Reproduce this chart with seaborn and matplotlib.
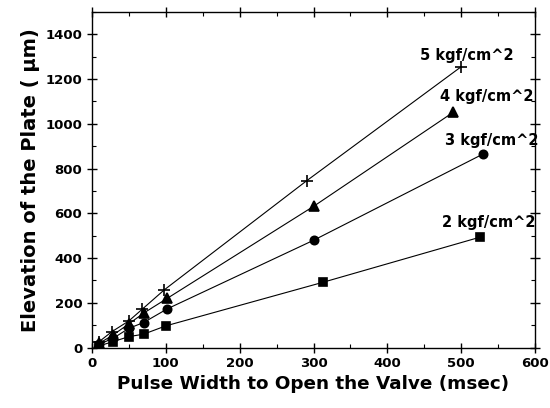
import pandas as pd
import matplotlib
import matplotlib.pyplot as plt
import seaborn as sns
from matplotlib.ticker import MultipleLocator

matplotlib.use("Agg")
sns.set_theme(style="ticks")
plt.rcParams["font.family"] = ["DejaVu Sans"]
plt.rcParams["text.color"] = "black"
plt.rcParams["axes.labelcolor"] = "black"
plt.rcParams["xtick.color"] = "black"
plt.rcParams["ytick.color"] = "black"

# Dados
pulso_5 = [10, 27, 50, 68, 98, 291, 500]
elev_5 = [27, 71, 119, 171, 258, 746, 1255]
pulso_4 = [10, 29, 50, 71, 102, 301, 489]
elev_4 = [19, 57, 106, 156, 220, 633, 1051]
pulso_3 = [10, 29, 50, 70, 102, 301, 529]
elev_3 = [15, 42, 86, 112, 173, 481, 864]
pulso_2 = [10, 29, 50, 70, 100, 313, 525]
elev_2 = [8, 27, 49, 60, 97, 292, 493]

rotulos = ["5 kgf/cm^2", "4 kgf/cm^2", "3 kgf/cm^2", "2 kgf/cm^2"]
pos_rotulos = [(444, 1306), (471, 1122), (478, 924), (474, 560)]

series = [
    (pulso_5, elev_5, "+", 8),
    (pulso_4, elev_4, "^", 7),
    (pulso_3, elev_3, "o", 6),
    (pulso_2, elev_2, "s", 6),
]

fig = plt.figure(figsize=(5.5, 4.08), dpi=100)
ax = fig.add_axes([0.167, 0.148, 0.806, 0.823])

for (x, y, mk, ms), nome, (tx, ty) in zip(series, rotulos, pos_rotulos):
    df = pd.DataFrame({"x": x, "y": y})
    sns.lineplot(data=df, x="x", y="y", ax=ax, color="black", linewidth=0.8,
                 marker=mk, markersize=ms, markeredgecolor="black",
                 markerfacecolor="black", markeredgewidth=1.2)
    ax.text(tx, ty, nome, fontsize=10.5, fontweight="bold", va="center",
            clip_on=False)

ax.set_xlim(0, 600)
ax.set_ylim(0, 1500)
ax.xaxis.set_major_locator(MultipleLocator(100))
ax.xaxis.set_minor_locator(MultipleLocator(50))
ax.yaxis.set_minor_locator(MultipleLocator(100))
ax.set_yticks(range(0, 1401, 200))
ax.tick_params(which="both", top=True, right=True, labelsize=9.5)
ax.tick_params(which="major", direction="inout", length=7, width=1)
ax.tick_params(which="minor", direction="in", length=3, width=0.8)
for lbl in ax.get_xticklabels() + ax.get_yticklabels():
    lbl.set_fontweight("bold")
for s in ax.spines.values():
    s.set_color("black")
    s.set_linewidth(1)

ax.set_xlabel("Pulse Width to Open the Valve (msec)", fontsize=13.2,
              fontweight="bold", labelpad=3)
ax.set_ylabel("Elevation of the Plate ( \u03bcm)", fontsize=14,
              fontweight="bold", labelpad=4)

plt.savefig("out.png", dpi=100)
plt.close()
